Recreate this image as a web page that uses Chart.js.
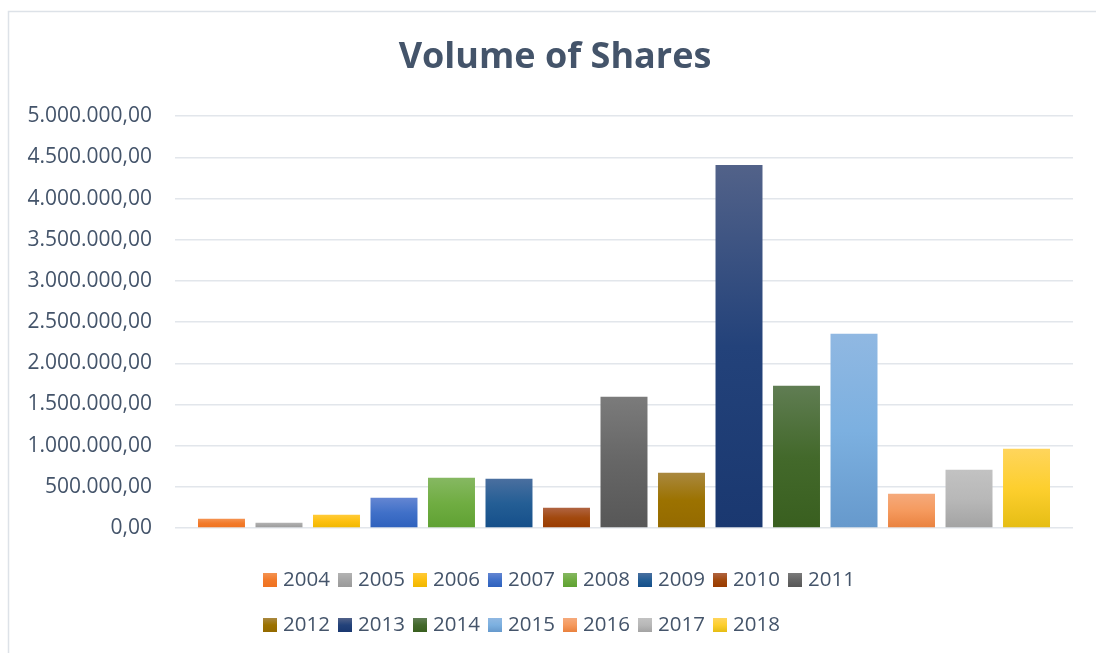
<!DOCTYPE html>
<html>
<head>
<meta charset="utf-8">
<script src="https://cdn.jsdelivr.net/npm/chart.js@4"></script>
<style>
html,body{margin:0;padding:0;background:#ffffff;}
#wrap{width:1096px;height:653px;position:relative;overflow:hidden;}
canvas{display:block;}
</style>
</head>
<body>
<div id="wrap"><canvas id="c" width="1096" height="653"></canvas></div>
<script>
// ---- data ----
const years = ['2004','2005','2006','2007','2008','2009','2010','2011','2012','2013','2014','2015','2016','2017','2018'];
const volumes = [113000, 64000, 161000, 368000, 610000, 598000, 246000, 1593000, 671000, 4408000, 1727000, 2358000, 416000, 707000, 962000];
const yMin = 0;
const yMax = 5000000;
const yStep = 500000;
const titleText = 'Volume of Shares';

// ---- styles ----
const topColors = ['#f49352','#b3b3b3','#ffca38','#6486d2','#86b862','#4a6f9f','#b06442','#7b7b7b','#a9883f','#526289','#607d53','#90b8e2','#f5aa7c','#c2c2c2','#ffd55c'];
const midColors = ['#f27a2a','#a5a5a5','#fdc010','#4070c8','#70ad42','#245e95','#a2490e','#666666','#9c7200','#23427a','#43692b','#7cb0e0','#f59a5e','#b8b8b8','#fdcf2e'];
const botColors = ['#ef7220','#9a9a9a','#efb700','#2e61bd','#5fa133','#154f8a','#993b00','#575757','#946a00','#1a3870','#395f1f','#6699cc','#e9813e','#a3a3a3','#e5bd14'];
const textColor = '#44546A';
const gridColor = '#e2e6eb';

function fmt(v){
  const n = Math.round(v);
  const s = String(n).replace(/\B(?=(\d{3})+(?!\d))/g, '.');
  return s + ',00';
}

function barGradient(i){
  return function(context){
    const chart = context.chart;
    const area = chart.chartArea;
    if (!area) return midColors[i];
    const ys = chart.scales.y;
    const v = context.raw == null ? 0 : context.raw;
    const y0 = ys.getPixelForValue(v);
    const y1 = ys.getPixelForValue(0);
    if (!isFinite(y0) || !isFinite(y1) || y1 - y0 < 1) return midColors[i];
    const g = chart.ctx.createLinearGradient(0, y0, 0, y1);
    g.addColorStop(0, topColors[i]);
    g.addColorStop(0.5, midColors[i]);
    g.addColorStop(1, botColors[i]);
    return g;
  };
}

const framePlugin = {
  id: 'frame',
  beforeDraw(chart){
    const ctx = chart.ctx;
    ctx.save();
    ctx.fillStyle = '#ffffff';
    ctx.fillRect(0, 0, chart.width, chart.height);
    ctx.strokeStyle = '#dde2e8';
    ctx.lineWidth = 1.5;
    ctx.beginPath();
    ctx.moveTo(8.5, chart.height + 5);
    ctx.lineTo(8.5, 11.5);
    ctx.lineTo(chart.width + 5, 11.5);
    ctx.stroke();
    ctx.restore();
  }
};

const legendPlugin = {
  id: 'excelLegend',
  afterDraw(chart){
    const ctx = chart.ctx;
    const startX = 263, itemW = 75, box = 14;
    const rowY = [580, 625];
    const perRow = 8;
    ctx.save();
    ctx.font = '20.5px "Open Sans"';
    ctx.textBaseline = 'middle';
    ctx.textAlign = 'left';
    chart.data.datasets.forEach((ds, i) => {
      const row = i < perRow ? 0 : 1;
      const col = row ? i - perRow : i;
      const x = startX + col * itemW;
      const cy = rowY[row];
      const g = ctx.createLinearGradient(0, cy - box/2, 0, cy + box/2);
      g.addColorStop(0, topColors[i]);
      g.addColorStop(0.5, midColors[i]);
      g.addColorStop(1, botColors[i]);
      ctx.fillStyle = g;
      ctx.fillRect(x, cy - box/2, box, box);
      ctx.fillStyle = textColor;
      ctx.fillText(ds.label, x + box + 6, cy);
    });
    ctx.restore();
  }
};

const datasets = years.map((yr, i) => ({
  label: yr,
  data: [volumes[i]],
  backgroundColor: barGradient(i),
  borderWidth: 0,
  categoryPercentage: 0.9605,
  barPercentage: 0.817
}));

new Chart(document.getElementById('c'), {
  type: 'bar',
  data: { labels: [''], datasets: datasets },
  plugins: [framePlugin, legendPlugin],
  options: {
    responsive: false,
    animation: false,
    devicePixelRatio: 1,
    layout: { padding: { left: 25, right: 11, top: 0, bottom: 125 } },
    plugins: {
      legend: { display: false },
      tooltip: { enabled: false },
      title: {
        display: true,
        text: titleText,
        color: textColor,
        font: { family: '"Open Sans"', size: 36, weight: 'bold', lineHeight: 1.2 },
        padding: { top: 36, bottom: 37 }
      }
    },
    scales: {
      x: { display: false, offset: true, grid: { display: false } },
      y: {
        min: yMin,
        max: yMax,
        afterFit(scale){ scale.width = 150; },
        border: { display: false },
        grid: { color: gridColor, lineWidth: 1.5, drawTicks: false },
        ticks: {
          stepSize: yStep,
          padding: 23,
          color: textColor,
          font: { family: '"Open Sans"', size: 21 },
          callback: (v) => fmt(v)
        }
      },
      yRight: {
        position: 'right',
        min: yMin,
        max: yMax,
        display: true,
        afterFit(scale){ scale.width = 12; },
        border: { display: false },
        grid: { display: false, drawOnChartArea: false },
        ticks: { display: false }
      }
    }
  }
});
</script>
</body>
</html>
